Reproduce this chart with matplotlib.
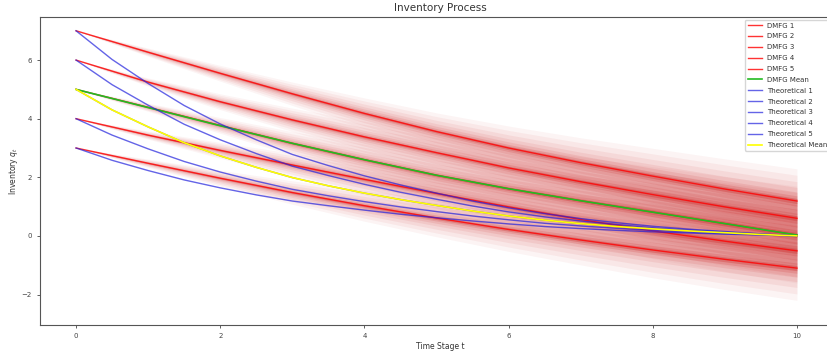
import numpy as np
import matplotlib
matplotlib.use("Agg")
import matplotlib.pyplot as plt

# ---- data ----
t_dmfg = [0, 1, 2, 3, 4, 5, 6, 7, 8, 9, 10]
dmfg_1 = [7.00, 6.27, 5.55, 4.85, 4.18, 3.56, 3.00, 2.50, 2.04, 1.60, 1.19]
dmfg_2 = [6.00, 5.25, 4.58, 3.96, 3.38, 2.84, 2.32, 1.85, 1.41, 0.99, 0.60]
dmfg_3 = [5.00, 4.39, 3.77, 3.16, 2.60, 2.07, 1.61, 1.20, 0.81, 0.42, 0.03]
dmfg_4 = [4.00, 3.44, 2.92, 2.42, 1.93, 1.45, 0.99, 0.56, 0.17, -0.18, -0.51]
dmfg_5 = [3.00, 2.48, 1.97, 1.48, 1.03, 0.61, 0.22, -0.14, -0.48, -0.80, -1.10]
dmfg_mean = [5.00, 4.38, 3.76, 3.16, 2.60, 2.07, 1.61, 1.20, 0.81, 0.42, 0.03]
# half-width of the sampled-path fan around each DMFG line
fan_halfwidth = [0.0, 0.14, 0.27, 0.40, 0.53, 0.64, 0.75, 0.85, 0.95, 1.03, 1.10]

t_theo = [0, 0.5, 1, 1.5, 2, 2.5, 3, 3.5, 4, 4.5, 5, 5.5, 6, 6.5, 7, 7.5, 8, 8.5, 9, 9.5, 10]
theo_1 = [7.00, 6.02, 5.20, 4.45, 3.82, 3.28, 2.78, 2.40, 2.05, 1.74, 1.46, 1.19, 0.96, 0.76, 0.59, 0.45, 0.33, 0.23, 0.15, 0.07, 0.0]
theo_2 = [6.00, 5.16, 4.46, 3.81, 3.28, 2.81, 2.38, 2.06, 1.76, 1.49, 1.25, 1.02, 0.82, 0.65, 0.51, 0.39, 0.28, 0.20, 0.13, 0.06, 0.0]
theo_3 = [5.00, 4.30, 3.72, 3.18, 2.73, 2.34, 1.99, 1.71, 1.46, 1.24, 1.04, 0.85, 0.68, 0.54, 0.42, 0.32, 0.24, 0.17, 0.11, 0.05, 0.0]
theo_4 = [4.00, 3.44, 2.97, 2.54, 2.18, 1.87, 1.59, 1.37, 1.17, 0.99, 0.83, 0.68, 0.55, 0.43, 0.34, 0.26, 0.19, 0.13, 0.08, 0.04, 0.0]
theo_5 = [3.00, 2.58, 2.23, 1.91, 1.64, 1.40, 1.19, 1.03, 0.88, 0.74, 0.62, 0.51, 0.41, 0.32, 0.25, 0.19, 0.14, 0.10, 0.06, 0.03, 0.0]
theo_mean = [5.00, 4.30, 3.72, 3.18, 2.73, 2.34, 1.99, 1.71, 1.46, 1.24, 1.04, 0.85, 0.68, 0.54, 0.42, 0.32, 0.24, 0.17, 0.11, 0.05, 0.0]

dmfg = [dmfg_1, dmfg_2, dmfg_3, dmfg_4, dmfg_5]
theo = [theo_1, theo_2, theo_3, theo_4, theo_5]

# ---- figure ----
fig = plt.figure(figsize=(8.27, 3.56), dpi=100)
ax = fig.add_axes([0.0484, 0.0871, 0.9676, 0.8651])

td = np.array(t_dmfg)
hw = np.array(fan_halfwidth)
layers = [(1.0, 0.045), (0.8, 0.055), (0.6, 0.065), (0.42, 0.08),
          (0.28, 0.1), (0.16, 0.15), (0.08, 0.25)]
for line in dmfg:
    m = np.array(line)
    for frac, a in layers:
        ax.fill_between(td, m - frac * hw, m + frac * hw, color=(0.78, 0.08, 0.08),
                        alpha=a, linewidth=0)

for i, line in enumerate(dmfg):
    ax.plot(t_dmfg, line, color='red', alpha=0.8, lw=1.0, label=f'DMFG {i+1}')
ax.plot(t_dmfg, dmfg_mean, color='#22bb22', lw=1.2, label='DMFG Mean')
for i, line in enumerate(theo):
    ax.plot(t_theo, line, color='#2222dd', alpha=0.7, lw=1.0, label=f'Theoretical {i+1}')
ax.plot(t_theo, theo_mean, color='yellow', lw=1.2, label='Theoretical Mean')

ax.set_xlim(-0.5, 10.6)
ax.set_ylim(-3.04, 7.47)
ax.set_xticks([0, 2, 4, 6, 8, 10])
ax.set_yticks([-2, 0, 2, 4, 6])
ax.tick_params(labelsize=5, colors='#444444', length=2.5, width=0.6)
for s in ax.spines.values():
    s.set_color('#555555')
    s.set_linewidth(0.8)

ax.set_title('Inventory Process', fontsize=7.5, color='#333333', pad=4)
ax.set_xlabel('Time Stage t', fontsize=5.5, color='#333333', labelpad=2)
ax.set_ylabel('Inventory $q_t$', fontsize=5.5, color='#333333', labelpad=1)

leg = ax.legend(loc='upper right', bbox_to_anchor=(10.5, 7.47), bbox_transform=ax.transData,
                fontsize=5, frameon=True, framealpha=0.8,
                edgecolor='#cccccc', borderaxespad=0.4, labelspacing=0.7)
for txt in leg.get_texts():
    txt.set_color('#333333')

fig.savefig('out.png', dpi=100)
